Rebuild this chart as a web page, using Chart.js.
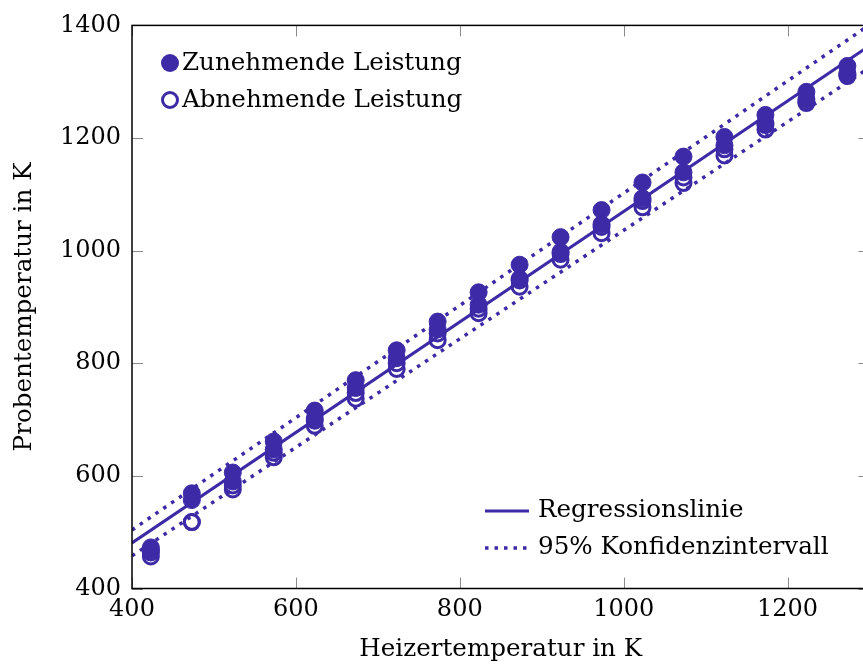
<!DOCTYPE html>
<html>
<head>
<meta charset="utf-8">
<script src="https://cdn.jsdelivr.net/npm/chart.js@4/dist/chart.umd.min.js"></script>
<style>
  html, body { margin: 0; padding: 0; background: #fff; overflow: hidden; }
  #wrap { position: absolute; left: 0; top: 0; width: 880px; height: 668px; }
</style>
</head>
<body>
<div id="wrap"><canvas id="chart"></canvas></div>
<script>
// heater temperatures (K)
const heaterTemps = [423, 473, 523, 573, 623, 673, 723, 773, 823, 873, 923, 973, 1023, 1073, 1123, 1173, 1223, 1273];

// sample temperatures, increasing power (two runs)
const risingRun1 = [473, 569, 606, 661, 716, 770, 823, 874, 926, 975, 1024, 1072, 1121, 1167, 1202, 1241, 1282, 1328];
const risingRun2 = [468, 557, 590, 647, 702, 756, 809, 860, 904, 950, 998, 1047, 1093, 1139, 1187, 1227, 1269, 1315];

// sample temperatures, decreasing power (two runs)
const fallingRun1 = [464, 518, 583, 641, 698, 747, 800, 853, 897, 947, 994, 1042, 1088, 1130, 1180, 1223, 1264, 1312];
const fallingRun2 = [457, 518, 576, 633, 689, 737, 790, 841, 889, 936, 984, 1031, 1077, 1120, 1169, 1215, 1262, 1310];

// regression line and 95% band, read at the axis ends
const lineX = [400, 1300];
const regressionY = [481, 1364];
const upperBandY = [504, 1401];
const lowerBandY = [458, 1325];

const xTicks = [400, 600, 800, 1000, 1200];
const yTicks = [400, 600, 800, 1000, 1200, 1400];

const purple = '#3c2aa6';
const fontFamily = '"DejaVu Serif", serif';

function points(xs, ys) {
    return xs.map((x, i) => ({ x: x, y: ys[i] }));
}

function filledSet(ys) {
    return {
        data: points(heaterTemps, ys),
        pointRadius: 8.5,
        pointBackgroundColor: purple,
        pointBorderColor: purple,
        pointBorderWidth: 1,
        showLine: false
    };
}

function openSet(ys) {
    return {
        data: points(heaterTemps, ys),
        pointRadius: 7.5,
        pointBackgroundColor: 'rgba(255,255,255,0)',
        pointBorderColor: purple,
        pointBorderWidth: 3,
        showLine: false
    };
}

function lineSet(ys, dash) {
    return {
        data: points(lineX, ys),
        showLine: true,
        pointRadius: 0,
        borderColor: purple,
        borderWidth: dash ? 3.5 : 3,
        borderDash: dash || [],
        fill: false
    };
}

// inward ticks and the frame, like the original plot
const frame = {
    id: 'frame',
    afterDatasetsDraw(chart) {
        const { ctx, chartArea: a, scales } = chart;
        ctx.save();
        ctx.strokeStyle = '#8a8a8a';
        ctx.lineWidth = 1;
        ctx.beginPath();
        xTicks.forEach(v => {
            const px = Math.round(scales.x.getPixelForValue(v)) + 0.5;
            ctx.moveTo(px, a.bottom); ctx.lineTo(px, a.bottom - 11);
            ctx.moveTo(px, a.top); ctx.lineTo(px, a.top + 11);
        });
        yTicks.forEach(v => {
            const py = Math.round(scales.y.getPixelForValue(v)) + 0.5;
            ctx.moveTo(a.left, py); ctx.lineTo(a.left + 11, py);
            ctx.moveTo(a.right, py); ctx.lineTo(a.right - 11, py);
        });
        ctx.stroke();
        ctx.strokeStyle = '#000';
        ctx.lineWidth = 1.5;
        ctx.strokeRect(a.left, a.top, a.right - a.left, a.bottom - a.top);
        ctx.restore();
    },
    afterDraw(chart) {
        const ctx = chart.ctx;
        ctx.save();
        ctx.font = '24.6px ' + fontFamily;
        ctx.textBaseline = 'middle';
        ctx.textAlign = 'left';

        // marker legend, top left
        ctx.fillStyle = purple;
        ctx.beginPath(); ctx.arc(170, 63, 9, 0, Math.PI * 2); ctx.fill();
        ctx.strokeStyle = purple; ctx.lineWidth = 3;
        ctx.beginPath(); ctx.arc(170, 100, 7.5, 0, Math.PI * 2); ctx.stroke();
        ctx.fillStyle = '#000';
        ctx.fillText('Zunehmende Leistung', 182, 64);
        ctx.fillText('Abnehmende Leistung', 182, 101);

        // line legend, bottom right
        ctx.strokeStyle = purple;
        ctx.lineWidth = 3;
        ctx.beginPath(); ctx.moveTo(485, 511); ctx.lineTo(529, 511); ctx.stroke();
        ctx.lineWidth = 3.5;
        ctx.setLineDash([3.5, 6]);
        ctx.beginPath(); ctx.moveTo(485, 548); ctx.lineTo(529, 548); ctx.stroke();
        ctx.setLineDash([]);
        ctx.fillText('Regressionslinie', 538, 511);
        ctx.fillText('95% Konfidenzintervall', 538, 548);
        ctx.restore();
    }
};

new Chart(document.getElementById('chart'), {
    type: 'scatter',
    data: {
        datasets: [
            filledSet(risingRun1),
            filledSet(risingRun2),
            openSet(fallingRun1),
            openSet(fallingRun2),
            lineSet(regressionY),
            lineSet(upperBandY, [3.5, 6]),
            lineSet(lowerBandY, [3.5, 6])
        ]
    },
    options: {
        responsive: true,
        maintainAspectRatio: false,
        animation: false,
        events: [],
        layout: { padding: { top: 22, right: 10, left: 0, bottom: 0 } },
        plugins: { legend: { display: false }, tooltip: { enabled: false } },
        scales: {
            x: {
                type: 'linear',
                min: 400,
                max: 1300,
                afterBuildTicks: s => { s.ticks = xTicks.map(v => ({ value: v })); },
                afterFit: s => { s.height = 79.5; },
                grid: { display: false, drawTicks: false },
                border: { display: false },
                ticks: {
                    color: '#000',
                    padding: 7,
                    maxRotation: 0,
                    callback: v => String(v),
                    font: { family: fontFamily, size: 24 }
                },
                title: {
                    display: true,
                    text: 'Heizertemperatur in K',
                    color: '#000',
                    padding: { top: 0, bottom: 4 },
                    font: { family: fontFamily, size: 24.6 }
                }
            },
            y: {
                type: 'linear',
                min: 400,
                max: 1400,
                afterBuildTicks: s => { s.ticks = yTicks.map(v => ({ value: v })); },
                afterFit: s => { s.width = 132; },
                grid: { display: false, drawTicks: false },
                border: { display: false },
                ticks: {
                    color: '#000',
                    padding: 11,
                    callback: v => String(v),
                    font: { family: fontFamily, size: 24 }
                },
                title: {
                    display: true,
                    text: 'Probentemperatur in K',
                    color: '#000',
                    padding: { top: 10, bottom: 0 },
                    font: { family: fontFamily, size: 24.6 }
                }
            }
        }
    },
    plugins: [frame]
});
</script>
</body>
</html>
